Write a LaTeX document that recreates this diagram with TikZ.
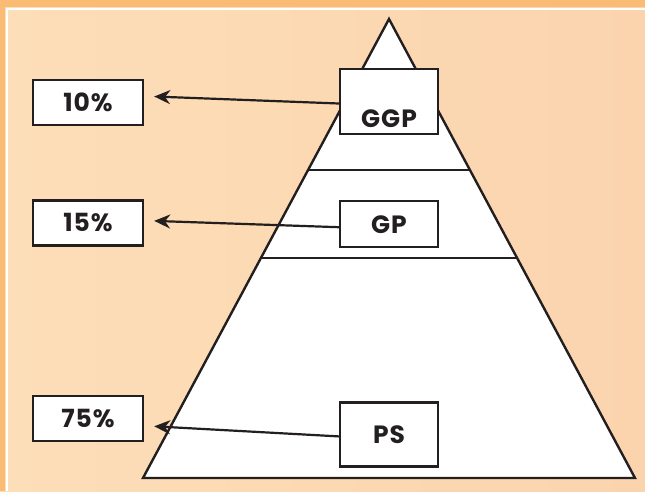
\documentclass[tikz,border=0pt]{standalone}
\usepackage{fontspec}
\setsansfont{Poppins}[LetterSpace=4]
\usetikzlibrary{positioning,arrows.meta}
\definecolor{bandorange}{RGB}{250,187,116}
\definecolor{peachleft}{RGB}{252,222,184}
\definecolor{peachright}{RGB}{251,212,174}
\definecolor{inkgray}{RGB}{35,31,32}
\tikzstyle{pct} = [rectangle, draw=inkgray, line width=2.4pt, fill=white, minimum width=110pt, minimum height=45pt, inner sep=0pt, text=inkgray, font=\sffamily\bfseries\fontsize{25}{28}\selectfont]
\tikzstyle{level} = [rectangle, draw=inkgray, line width=2.2pt, fill=white, minimum width=98pt, inner sep=0pt, text=inkgray, font=\sffamily\bfseries\fontsize{25}{28}\selectfont]
\tikzstyle{arrow} = [draw=inkgray, line width=2.2pt, -{Stealth[length=16pt,width=14pt]}]

\begin{document}
\begin{tikzpicture}[x=1pt,y=-1pt]
\useasboundingbox (0,0) rectangle (645,491);
% background and frame
\shade[left color=peachleft,right color=peachright] (0,0) rectangle (645,491);
\fill[bandorange] (0,0) rectangle (645,7);
\fill[bandorange] (0,0) rectangle (5,491);
\draw[white, line width=2pt] (6.5,491) -- (6.5,9) -- (645,9);

% pyramid
\draw[inkgray, fill=white, line width=2.4pt] (389,19) -- (635,478) -- (143,478) -- cycle;
\draw[inkgray, line width=2.4pt] (308,170) -- (470,170);
\draw[inkgray, line width=2.4pt] (261,258) -- (517,258);

% levels
\node (ggp) [level, minimum height=65pt, text height=53pt, text depth=2pt] at (389,101.5) {GGP};
\node (gp) [level, minimum height=46pt, below=65pt of ggp] {GP};
\node (ps) [level, minimum height=64pt, below=153pt of gp] {PS};

% shares
\node (p10) [pct] at (88,102.5) {10\%};
\node (p15) [pct, below=73pt of p10] {15\%};
\node (p75) [pct, below=148pt of p15] {75\%};

\draw [arrow] ([yshift=-2pt]ggp.west) -- ([xshift=10pt,yshift=6pt]p10.east);
\draw [arrow] ([yshift=-3pt]gp.west) -- ([xshift=10pt,yshift=2pt]p15.east);
\draw [arrow] ([yshift=-2pt]ps.west) -- ([xshift=10pt,yshift=-8pt]p75.east);

\end{tikzpicture}
\end{document}
